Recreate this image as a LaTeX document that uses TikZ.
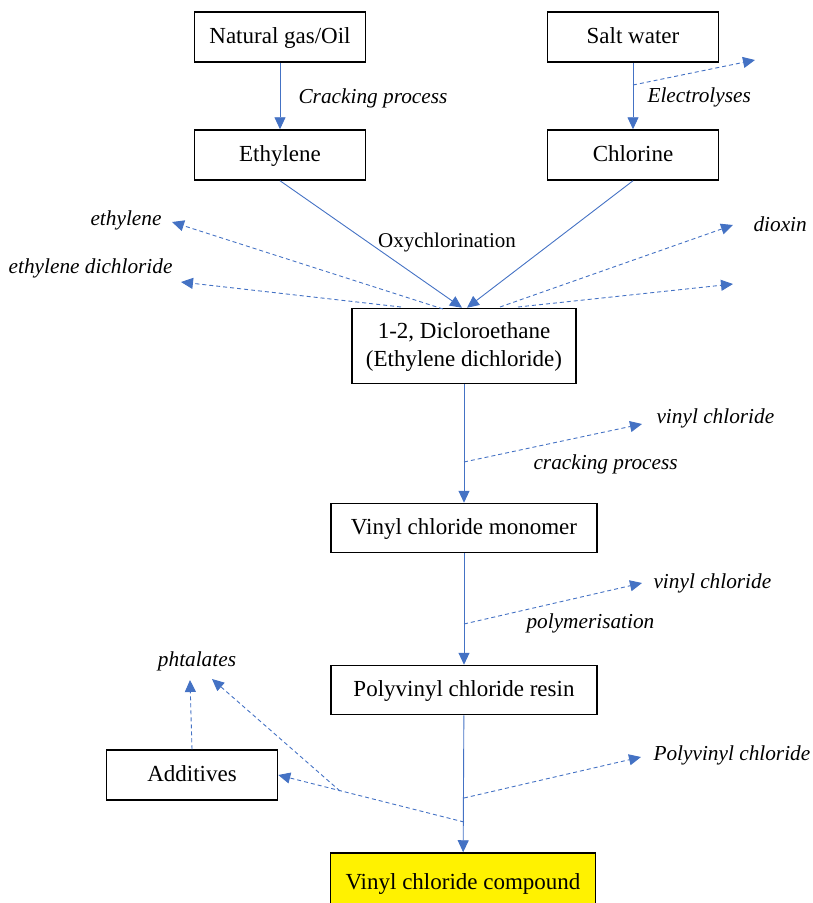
\documentclass[tikz,border=0pt]{standalone}
\usepackage{fontspec}
\setmainfont{Liberation Serif}
\usetikzlibrary{arrows.meta}
\definecolor{flowblue}{RGB}{68,114,196}
\begin{document}
\begin{tikzpicture}[
    x=1pt,
    y=-1pt,
    font=\fontsize{23}{28}\selectfont,
    box/.style={draw, line width=1.5pt, minimum width=171, minimum height=50, inner sep=2pt, align=center, text depth=2pt},
    flow/.style={flowblue, line width=0.9pt, -{Triangle[width=11pt,length=12pt]}},
    side/.style={flowblue, line width=0.9pt, dash pattern=on 4pt off 3pt, -{Triangle[width=11pt,length=12pt]}},
    note/.style={font=\fontsize{21.3}{26}\selectfont\itshape}
]

\clip (0,0) rectangle (812,903);

% Boxes
\node[box] (gas) at (280,37) {Natural gas/Oil};
\node[box] (salt) at (633,37) {Salt water};
\node[box] (eth) at (280,155) {Ethylene};
\node[box] (chl) at (633,155) {Chlorine};
\node[box, minimum width=224, minimum height=75] (dce) at (464,346) {1-2, Dicloroethane\\(Ethylene dichloride)};
\node[box, minimum width=266, minimum height=49] (vcm) at (464,528) {Vinyl chloride monomer};
\node[box, minimum width=266, minimum height=49] (pvc) at (464,690) {Polyvinyl chloride resin};
\node[box] (add) at (192,775) {Additives};
\node[box, fill=yellow, minimum width=265, minimum height=60] (vcc) at (463,883) {Vinyl chloride compound};

% Process labels
\node[note, anchor=west] (crackA) at (295,98) {Cracking process};
\node[note, anchor=west] (elec) at (644,97) {Electrolyses};
\node[font=\fontsize{21}{25}\selectfont] (oxy) at (447,242) {Oxychlorination};
\node[note, anchor=west] (crackB) at (530,464) {cracking process};
\node[note, anchor=west] (poly) at (523,623) {polymerisation};

% Output labels
\node[note, anchor=east] (outEth) at (165,220) {ethylene};
\node[note, anchor=east] (outEdc) at (176,268) {ethylene dichloride};
\node[note, anchor=west] (outDiox) at (750,224) {dioxin};
\node[note, anchor=west] (outVcA) at (653,418) {vinyl chloride};
\node[note, anchor=west] (outVcB) at (650,583) {vinyl chloride};
\node[note, anchor=west] (outPvc) at (650,755) {Polyvinyl chloride};
\node[note] (outPht) at (197,661) {phtalates};

% Main flow
\draw[flow] (gas) -- (eth);
\draw[flow] (salt) -- (chl);
\draw[flow] (eth.south) -- ([xshift=-2]dce.north);
\draw[flow] (chl.south) -- ([xshift=3]dce.north);
\draw[flow] (dce) -- (vcm);
\draw[flow] (vcm) -- (pvc);
\draw[flow] (pvc) -- (vcc);

% Side streams
\coordinate (elecA) at (633,85);
\coordinate (elecB) at (755,60);
\coordinate (edcA) at (443,309);
\coordinate (edcB) at (401,307);
\coordinate (edcC) at (500,307);
\coordinate (edcD) at (518,307);
\coordinate (tipEth) at (172,222);
\coordinate (tipEdc) at (181,282);
\coordinate (tipDiox) at (733,225);
\coordinate (tipFree) at (733,284);
\coordinate (vcmA) at (464,462);
\coordinate (tipVcA) at (642,424);
\coordinate (pvcA) at (464,624);
\coordinate (tipVcB) at (642,583);
\coordinate (vccA) at (464,798);
\coordinate (tipPvc) at (641,757);
\coordinate (vccB) at (464,822);
\coordinate (split) at (340,791);
\coordinate (tipPhtA) at (212,679);
\coordinate (tipPhtB) at (190,680);

\draw[side] (elecA) -- (elecB);
\draw[side] (edcA) -- (tipEth);
\draw[side] (edcB) -- (tipEdc);
\draw[side] (edcC) -- (tipDiox);
\draw[side] (edcD) -- (tipFree);
\draw[side] (vcmA) -- (tipVcA);
\draw[side] (pvcA) -- (tipVcB);
\draw[side] (vccA) -- (tipPvc);
\draw[side] (vccB) -- (add.east);
\draw[side] (split) -- (tipPhtA);
\draw[side] (add.north) -- (tipPhtB);

\end{tikzpicture}
\end{document}
